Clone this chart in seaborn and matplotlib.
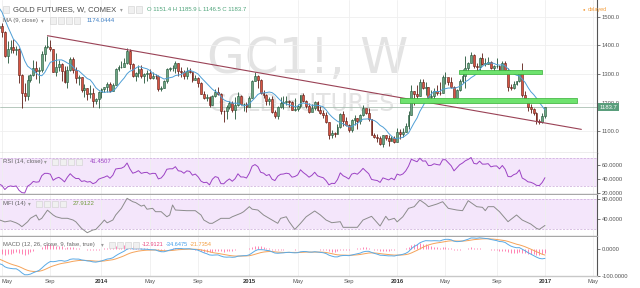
import numpy as np
import pandas as pd
import matplotlib
matplotlib.use("Agg")
import matplotlib.pyplot as plt
import matplotlib.transforms as mtransforms
from matplotlib.patches import Rectangle
from matplotlib.ticker import FuncFormatter, FixedLocator
import seaborn as sns

# ---------------- data (weekly bars, Monday-dated) ----------------
FIRST_WEEK = "2012-01-02"          # first close (warm-up for indicators)
FIRST_CANDLE = "2013-04-22"        # first drawn candle

close_2012 = [1617, 1640, 1665, 1736, 1726, 1725, 1725, 1772, 1711, 1711, 1659, 1662, 1669,
              1631, 1659, 1642, 1664, 1645, 1585, 1592, 1573, 1622, 1595, 1627, 1572, 1604,
              1579, 1592, 1583, 1619, 1606, 1621, 1616, 1671, 1692, 1740, 1771, 1773, 1772,
              1781, 1757, 1724, 1712, 1676, 1730, 1714, 1752, 1713, 1701, 1697, 1658, 1656, 1655]
close_2013 = [1662, 1687, 1658, 1669, 1667, 1609, 1572, 1572, 1577, 1592, 1607, 1595, 1580,
              1476, 1421, 1462, 1469, 1447, 1364, 1386, 1393, 1383, 1387, 1298, 1234, 1223,
              1278, 1295, 1322, 1310, 1313, 1371, 1396, 1396, 1387, 1308, 1326, 1336, 1310,
              1272, 1315, 1352, 1315, 1287, 1288, 1244, 1250, 1231, 1235, 1204, 1213, 1238]
close_2014 = [1247, 1254, 1264, 1240, 1263, 1318, 1323, 1326, 1340, 1379, 1334, 1294, 1303,
              1318, 1293, 1300, 1302, 1287, 1293, 1292, 1246, 1252, 1274, 1316, 1320, 1320,
              1337, 1310, 1307, 1293, 1309, 1306, 1280, 1287, 1267, 1231, 1216, 1218, 1192,
              1222, 1238, 1231, 1171, 1169, 1185, 1197, 1175, 1190, 1222, 1195, 1195, 1186]
close_2015 = [1217, 1277, 1293, 1279, 1234, 1227, 1205, 1213, 1167, 1152, 1184, 1199, 1201,
              1207, 1203, 1175, 1179, 1189, 1225, 1205, 1189, 1168, 1180, 1201, 1173, 1164,
              1157, 1131, 1085, 1094, 1091, 1113, 1159, 1134, 1121, 1104, 1138, 1145, 1137,
              1156, 1182, 1162, 1142, 1088, 1081, 1076, 1056, 1085, 1075, 1065, 1076, 1061]
close_2016 = [1098, 1089, 1097, 1118, 1158, 1239, 1230, 1222, 1271, 1251, 1254, 1221, 1223,
              1240, 1235, 1232, 1290, 1290, 1272, 1253, 1216, 1244, 1275, 1294, 1322, 1340,
              1367, 1327, 1323, 1357, 1336, 1336, 1341, 1320, 1327, 1328, 1310, 1338, 1313,
              1253, 1251, 1266, 1274, 1302, 1228, 1210, 1183, 1177, 1162, 1137, 1133, 1151.4]
close_2017 = [1183.7]

high_2013 = [1469, 1488, 1480, 1450, 1416, 1420, 1424, 1397, 1392, 1300, 1267, 1297, 1300,
             1348, 1347, 1325, 1380, 1400, 1434, 1420, 1388, 1375, 1348, 1339, 1327, 1327,
             1361, 1361, 1326, 1295, 1290, 1266, 1252, 1262, 1252, 1217, 1240]
low_2013 = [1395, 1443, 1430, 1359, 1338, 1375, 1375, 1366, 1269, 1180, 1207, 1210, 1271,
            1293, 1283, 1270, 1308, 1347, 1390, 1380, 1308, 1292, 1311, 1277, 1267, 1251,
            1310, 1303, 1267, 1262, 1236, 1221, 1210, 1216, 1185, 1194, 1182]
high_2014 = [1250, 1256, 1273, 1272, 1269, 1320, 1332, 1346, 1355, 1392, 1389, 1339, 1306,
             1331, 1332, 1305, 1315, 1316, 1306, 1300, 1295, 1258, 1278, 1321, 1326, 1332,
             1346, 1339, 1325, 1313, 1325, 1321, 1307, 1297, 1290, 1272, 1241, 1229, 1223,
             1228, 1249, 1255, 1234, 1175, 1191, 1205, 1204, 1218, 1238, 1225, 1200, 1202]
low_2014 = [1217, 1237, 1237, 1238, 1241, 1262, 1309, 1320, 1323, 1334, 1318, 1288, 1277,
            1291, 1286, 1268, 1277, 1283, 1284, 1284, 1240, 1240, 1250, 1268, 1311, 1311,
            1305, 1292, 1291, 1281, 1282, 1303, 1273, 1278, 1255, 1229, 1214, 1207, 1183,
            1191, 1219, 1225, 1161, 1131, 1144, 1178, 1166, 1142, 1189, 1190, 1170, 1168]
high_2015 = [1224, 1279, 1307, 1298, 1284, 1245, 1230, 1220, 1223, 1173, 1188, 1220, 1224,
             1224, 1209, 1206, 1215, 1196, 1227, 1232, 1208, 1198, 1196, 1206, 1205, 1187,
             1175, 1166, 1132, 1105, 1098, 1126, 1164, 1170, 1148, 1124, 1141, 1156, 1145,
             1161, 1191, 1177, 1180, 1144, 1095, 1091, 1082, 1088, 1088, 1088, 1084, 1083]
low_2015 = [1186, 1217, 1276, 1250, 1231, 1216, 1192, 1190, 1164, 1147, 1142, 1180, 1178,
            1192, 1185, 1175, 1170, 1170, 1182, 1203, 1182, 1162, 1170, 1175, 1170, 1161,
            1147, 1130, 1072, 1077, 1080, 1091, 1112, 1119, 1117, 1098, 1098, 1122, 1108,
            1125, 1152, 1159, 1136, 1085, 1077, 1062, 1052, 1046, 1068, 1047, 1065, 1058]
high_2016 = [1112, 1106, 1111, 1129, 1172, 1263, 1240, 1262, 1281, 1284, 1272, 1254, 1245,
             1250, 1263, 1271, 1296, 1306, 1284, 1289, 1257, 1248, 1283, 1318, 1362, 1343,
             1377, 1370, 1340, 1358, 1375, 1357, 1358, 1347, 1332, 1355, 1331, 1345, 1345,
             1320, 1266, 1274, 1277, 1307, 1338, 1239, 1215, 1194, 1180, 1167, 1143, 1162]
low_2016 = [1062, 1073, 1081, 1096, 1107, 1158, 1191, 1207, 1224, 1246, 1227, 1208, 1206,
            1211, 1226, 1228, 1232, 1266, 1262, 1251, 1212, 1200, 1239, 1269, 1250, 1308,
            1337, 1322, 1310, 1312, 1330, 1329, 1336, 1318, 1305, 1322, 1309, 1308, 1313,
            1242, 1243, 1249, 1260, 1272, 1220, 1204, 1171, 1165, 1155, 1124, 1126, 1129]
high_2017 = [1185.9]
low_2017 = [1146.5]
open_last = 1151.4

# MFI(14) vertices: (bar number counted from FIRST_WEEK, value)
mfi_bar = [69, 71, 73, 75, 76, 77, 79, 80, 82, 83, 84, 86, 88, 89, 91, 93, 95, 96, 98, 100,
           102, 103, 105, 106, 107, 109, 110, 112, 114, 116, 117, 119, 120, 121, 123, 124, 126,
           128, 129, 130, 131, 135, 138, 140, 141, 143, 144, 146, 147, 150, 151, 154, 155, 157,
           158, 160, 162, 164, 165, 167, 168, 170, 171, 173, 175, 177, 180, 182, 184, 186, 189,
           190, 195, 197, 200, 203, 205, 206, 208, 209, 211, 213, 215, 217, 219, 220, 223, 225,
           227, 230, 232, 234, 237, 239, 240, 241, 243, 245, 248, 251, 253, 256, 258, 259, 261]
mfi_val = [39, 35, 37, 33, 30, 25.5, 35, 42, 48.5, 38.6, 42, 58, 48.5, 45, 42, 42, 38.6, 35, 22,
           13.6, 19, 20, 32, 38.6, 33, 38.6, 48.5, 61.6, 81.3, 74.7, 73, 66, 68, 59.9, 61.6, 55,
           55, 45, 48.5, 68.2, 58.3, 57, 57, 48.5, 38.6, 32.1, 32.1, 38.6, 41.9, 41.9, 45, 51.8,
           55, 64.9, 60, 58.3, 48.5, 41.9, 38.6, 32.1, 41.9, 45, 35.3, 20, 32, 45, 56.4, 48.5,
           38.6, 33.3, 35.3, 24.2, 24.2, 38.6, 45.9, 26.8, 45.9, 38.6, 42, 35, 45, 61.6, 64.9,
           78, 70.1, 64.9, 70.1, 74.7, 61.6, 58.3, 57, 76.7, 64.9, 63.6, 57, 64.9, 64.9, 55,
           35.3, 48.5, 38.6, 30.7, 22.2, 20.1, 27.9]

# drawn annotations (bar number, price)
trend_bar = [86, 273.8]
trend_price = [1434, 1106]
zone_upper = (230.7, 260.0, 1299, 1313)
zone_lower = (210.0, 272.3, 1200, 1217)

price_ticks = [1100, 1200, 1300, 1400, 1500]
rsi_ticks = [20, 40, 60]
mfi_ticks = [40, 80]
macd_ticks = [-100, 0]
month_labels = {1: None, 5: "May", 9: "Sep"}

# ---------------- frame ----------------
closes = close_2012 + close_2013 + close_2014 + close_2015 + close_2016 + close_2017
weeks = pd.date_range(FIRST_WEEK, periods=len(closes), freq="7D")
df = pd.DataFrame({"week": weeks, "close": closes})
df["bar"] = np.arange(len(df))
df["open"] = df["close"].shift(1)
df.loc[df.index[-1], "open"] = open_last
df["ma9"] = df["close"].rolling(9).mean()
d = df["close"].diff()
up = d.clip(lower=0).ewm(alpha=1 / 14, adjust=False).mean()
dn = (-d.clip(upper=0)).ewm(alpha=1 / 14, adjust=False).mean()
df["rsi"] = 100 - 100 / (1 + up / dn)
df["macd"] = df["close"].ewm(span=12, adjust=False).mean() - df["close"].ewm(span=26, adjust=False).mean()
df["signal"] = df["macd"].ewm(span=9, adjust=False).mean()
df["hist"] = df["macd"] - df["signal"]

first = int(np.where(weeks == pd.Timestamp(FIRST_CANDLE))[0][0])
cd = df.iloc[first:].copy()
cd["high"] = high_2013 + high_2014 + high_2015 + high_2016 + high_2017
cd["low"] = low_2013 + low_2014 + low_2015 + low_2016 + low_2017
vis = df.iloc[first - 1:]

# date ticks (first bar of Jan / May / Sep), extended into the future
all_weeks = pd.date_range(FIRST_WEEK, periods=len(closes) + 30, freq="7D")
tick_pos, tick_lab, tick_year = [], [], []
for k in range(1, len(all_weeks)):
    w, p = all_weeks[k], all_weeks[k - 1]
    if w.month != p.month and w.month in month_labels:
        tick_pos.append(k)
        tick_lab.append(str(w.year) if w.month == 1 else month_labels[w.month])
        tick_year.append(w.month == 1)

# ---------------- figure ----------------
sns.set_theme(style="white")
plt.rcParams["font.family"] = ["Liberation Sans", "DejaVu Sans"]
W, H = 640, 288
fig = plt.figure(figsize=(6.4, 2.88), dpi=100)
fig.patch.set_facecolor("white")

AXW = 597 / W
def mk(top, bot):
    return fig.add_axes([0, 1 - bot / H, AXW, (bot - top) / H])

ax = mk(0, 152.5)
ar = mk(153, 194)
am = mk(195, 236)
ac = mk(237, 276)
XL = (69.3, 279.3)

GRID = "#efefef"
for a in (ax, ar, am, ac):
    a.set_xlim(*XL)
    a.set_facecolor("white")
    a.xaxis.set_major_locator(FixedLocator(tick_pos))
    a.grid(True, axis="x", color=GRID, lw=0.6, zorder=0)
    a.yaxis.tick_right()
    a.tick_params(axis="y", which="both", length=2, width=0.5, pad=1.5, labelsize=4.2,
                  colors="#444444", labelcolor="#555555", direction="out", right=True, left=False)
    a.tick_params(axis="x", length=0, labelbottom=False, bottom=False)
    for s in ("left", "top"):
        a.spines[s].set_visible(False)
    a.spines["right"].set_color("#555555")
    a.spines["right"].set_linewidth(0.8)
    a.spines["bottom"].set_color("#a8a8a8")
    a.spines["bottom"].set_linewidth(1.0)
    a.set_xlabel("")
    a.set_ylabel("")

# ---- main price panel ----
ax.set_ylim(1025, 1559)
ax.yaxis.set_major_locator(FixedLocator(price_ticks))
ax.yaxis.set_major_formatter(FuncFormatter(lambda v, p: f"{v:.1f}"))
ax.grid(True, axis="y", color=GRID, lw=0.6, zorder=0)

ax.text(0.515, 0.61, "GC1!, W", transform=ax.transAxes, ha="center", va="center",
        fontsize=35, color="#e3e3e3", family="DejaVu Sans", zorder=0.5)
ax.text(0.505, 0.315, "GOLD FUTURES", transform=ax.transAxes, ha="center", va="center",
        fontsize=17, color="#e3e3e3", family="DejaVu Sans", zorder=0.5)

is_up = cd["close"] >= cd["open"]
UPF, UPE, DNF, DNE = "#6ba583", "#225437", "#d75442", "#5b1a13"
wick_col = np.where(is_up, UPE, DNE)
ax.vlines(cd["bar"], cd["low"], cd["high"], colors=wick_col, lw=0.6, zorder=3)
body = (cd["close"] - cd["open"]).abs().clip(lower=0.8)
bottom = cd[["open", "close"]].min(axis=1)
ax.bar(cd["bar"], body, bottom=bottom, width=0.66,
       color=np.where(is_up, UPF, DNF), edgecolor=wick_col, linewidth=0.4, zorder=4)

sns.lineplot(x=vis["bar"], y=vis["ma9"], ax=ax, color="#4f9fd6", lw=0.7, zorder=5, legend=False)
sns.lineplot(x=trend_bar, y=trend_price, ax=ax, color="#9a4256", lw=0.8, zorder=5, legend=False)
for (x0, x1, y0, y1) in (zone_upper, zone_lower):
    ax.add_patch(Rectangle((x0, y0), x1 - x0, y1 - y0, facecolor="#6ee36e",
                           edgecolor="#35b035", lw=0.5, zorder=6))
last = df["close"].iloc[-1]
ax.axhline(last, color="#a9bfb2", lw=0.6, zorder=2)
tr = mtransforms.blended_transform_factory(ax.transAxes, ax.transData)
ax.text(1.004, last, f"{last:.1f}", transform=tr, ha="left", va="center", fontsize=4.2,
        color="white", zorder=10, clip_on=False,
        bbox=dict(boxstyle="square,pad=0.25", fc="#5a9e7c", ec="none"))
ax.set_xlabel(""); ax.set_ylabel("")

# ---- RSI ----
ar.set_ylim(18.1, 77.4)
ar.axhspan(30, 70, color="#f4e6fb", zorder=0.2, lw=0)
for lv in (30, 70):
    ar.axhline(lv, color="#c9a6d9", lw=0.5, ls=(0, (3, 2)), zorder=1)
ar.yaxis.set_major_locator(FixedLocator(rsi_ticks))
ar.yaxis.set_major_formatter(FuncFormatter(lambda v, p: f"{v:.4f}"))
sns.lineplot(x=vis["bar"], y=vis["rsi"], ax=ar, color="#9c42c4", lw=0.7, zorder=5, legend=False)
ar.set_xlabel(""); ar.set_ylabel("")

# ---- MFI ----
am.set_ylim(7.1, 87.9)
am.axhspan(20, 80, color="#f4e6fb", zorder=0.2, lw=0)
for lv in (20, 80):
    am.axhline(lv, color="#c9a6d9", lw=0.5, ls=(0, (3, 2)), zorder=1)
am.yaxis.set_major_locator(FixedLocator(mfi_ticks))
am.yaxis.set_major_formatter(FuncFormatter(lambda v, p: f"{v:.4f}"))
sns.lineplot(x=mfi_bar, y=mfi_val, ax=am, color="#8c8c8c", lw=0.7, zorder=5, legend=False)
am.set_xlabel(""); am.set_ylabel("")

# ---- MACD ----
ac.set_ylim(-100, 46)
ac.yaxis.set_major_locator(FixedLocator(macd_ticks))
ac.yaxis.set_major_formatter(FuncFormatter(lambda v, p: f"{v:.4f}"))
ac.vlines(vis["bar"], 0, vis["hist"], colors="#ff5a9a", lw=0.7, alpha=0.75, zorder=3)
sns.lineplot(x=vis["bar"], y=vis["signal"], ax=ac, color="#f5a35a", lw=0.7, zorder=5, legend=False)
sns.lineplot(x=vis["bar"], y=vis["macd"], ax=ac, color="#5aaae6", lw=0.7, zorder=6, legend=False)
ac.set_xlabel(""); ac.set_ylabel("")
ac.tick_params(axis="x", labelbottom=True, length=0, pad=2.5, labelsize=4.2, labelcolor="#555555")
ac.set_xticklabels(tick_lab)
for k, (lab, yr) in enumerate(zip(ac.get_xticklabels(), tick_year)):
    if yr:
        lab.set_fontweight("bold")
        lab.set_color("#333333")
    if tick_pos[k] < XL[0] + 2:
        lab.set_horizontalalignment("left")
ac.spines["bottom"].set_color("#c8c8c8")

# ---------------- header texts ----------------
def T(x, y, s, size=4.3, color="#555555", **kw):
    fig.text(x / W, 1 - y / H, s, fontsize=size, color=color, va="center", ha="left", **kw)

def boxes(x0, y, n, step=8):
    for k in range(n):
        fig.patches.append(Rectangle(((x0 + k * step) / W, 1 - (y + 3) / H), 6 / W, 6 / H,
                                     transform=fig.transFigure, facecolor="#f0f0f0",
                                     edgecolor="#cfcfcf", lw=0.4, zorder=20))

boxes(3, 9.5, 1)
T(13, 9.5, "GOLD FUTURES, W, COMEX", size=5.5, color="#4a4a4a")
T(120, 9.5, "▾", size=4, color="#9a9a9a")
boxes(128, 9.5, 2)
T(147, 9.5, "O 1151.4 H 1185.9 L 1146.5 C 1183.7", size=4.3, color="#4ea47a")
T(3, 20.5, "MA (9, close)", size=4.3, color="#666666")
T(41, 20.5, "▾", size=4, color="#9a9a9a")
boxes(50, 20.5, 4)
T(87, 20.5, "1174.0444", size=4.3, color="#3d7fc4")
T(583, 9.5, "●", size=3, color="#f39c3a")
T(588, 9.5, "delayed", size=4, color="#f39c3a")

T(3, 161.5, "RSI (14, close)", size=4.3, color="#666666")
T(44, 161.5, "▾", size=4, color="#9a9a9a")
boxes(52, 161.5, 4)
T(90, 161.5, "41.4507", size=4.3, color="#9c42c4")

T(3, 203.5, "MFI (14)", size=4.3, color="#666666")
T(28, 203.5, "▾", size=4, color="#9a9a9a")
boxes(36, 203.5, 4)
T(73, 203.5, "27.9122", size=4.3, color="#6f9a3a")

T(3, 244.5, "MACD (12, 26, close, 9, false, true)", size=4.2, color="#666666")
T(101, 244.5, "▾", size=4, color="#9a9a9a")
boxes(109, 244.5, 4)
T(142, 244.5, "-12.9121", size=4.0, color="#e8467f")
T(166, 244.5, "-34.6475", size=4.0, color="#3d9be9")
T(190, 244.5, "-21.7354", size=4.0, color="#f39c3c")

fig.savefig("out.png", dpi=100, facecolor="white")
